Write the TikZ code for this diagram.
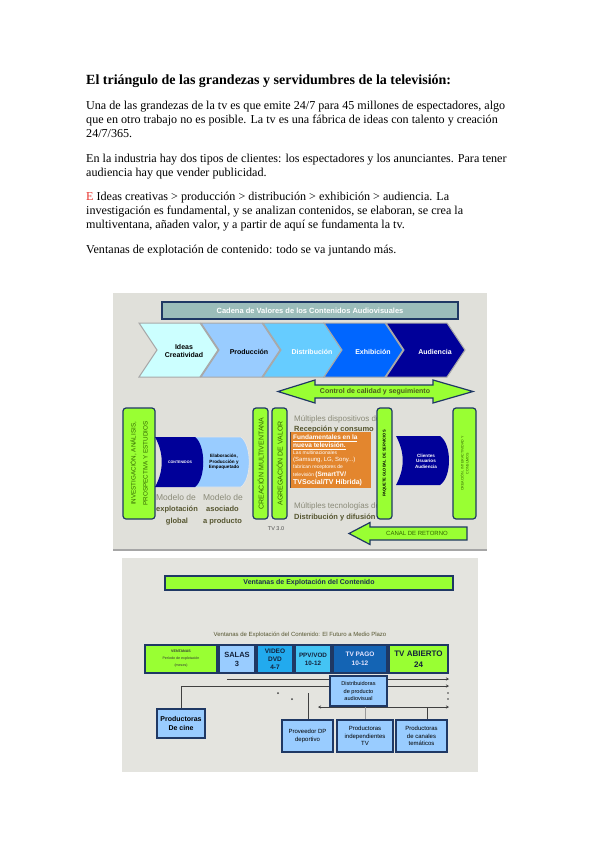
\documentclass[tikz,border=0pt]{standalone}
\usepackage{fontspec}
\setmainfont{Liberation Serif}
\setsansfont{Liberation Sans}
\usetikzlibrary{arrows.meta}
\pgfdeclarelayer{back}
\pgfdeclarelayer{bg}
\pgfsetlayers{back,bg,main}
\definecolor{navy}{HTML}{1F3864}
\definecolor{lime}{HTML}{99FF33}
\definecolor{lblue}{HTML}{99CCFF}
\definecolor{chA}{HTML}{CCFFFF}
\definecolor{chB}{HTML}{99CCFF}
\definecolor{chC}{HTML}{66CCFF}
\definecolor{chD}{HTML}{0066FF}
\definecolor{chE}{HTML}{000099}
\definecolor{tealbar}{HTML}{9BBDBA}
\definecolor{orangebox}{HTML}{E3862E}
\definecolor{bgone}{HTML}{E0E0DA}
\definecolor{bgtwo}{HTML}{E4E4DF}
\definecolor{vgreen}{HTML}{336600}
\definecolor{olive}{HTML}{4B5A1E}
\definecolor{greytext}{HTML}{8A8A78}
\definecolor{darkolive}{HTML}{55552F}
\definecolor{dvd}{HTML}{22AAEE}
\definecolor{ppv}{HTML}{44C4F4}
\definecolor{tvpago}{HTML}{1464B4}
\definecolor{chline}{HTML}{A8A8A8}
\definecolor{redE}{HTML}{E8302A}
\begin{document}
\begin{tikzpicture}[x=1pt,y=-1pt,
  body/.style={anchor=base west,inner sep=0,font=\fontsize{12.1}{14}\selectfont},
  lbl/.style={inner sep=0,align=center},
  vbox/.style={draw=navy,fill=lime,line width=1.2pt,rounded corners=3pt,rotate=90,inner sep=0,align=center,minimum width=111},
  wbox/.style={draw=navy,line width=1.3pt,inner sep=0,align=center,font=\sffamily\bfseries},
  lbox/.style={wbox,fill=lblue},
  conn/.style={draw=black!75,line width=0.8pt},
  tip/.style={-{Stealth[length=3pt,width=3pt]}}
]
\useasboundingbox (0,0) rectangle (599,848);
\begin{pgfonlayer}{back}
\fill[white] (0,0) rectangle (599,848);
\fill[bgone] (113,293) rectangle (487,550);
\draw[black!35,line width=1.2pt] (113,550) -- (487,550);
\fill[bgtwo] (122,558) rectangle (478,772);
\end{pgfonlayer}

% ---- page text ----
\node[anchor=base west,inner sep=0,font=\bfseries\fontsize{14}{16}\selectfont] (title) at (86,85) {El triángulo de las grandezas y servidumbres de la televisión:};
\node[body] (l1) at (86,110) {Una de las grandezas de la tv es que emite 24/7 para 45 millones de espectadores, algo};
\node[body] (l2) at (86,124) {que en otro trabajo no es posible. La tv es una fábrica de ideas con talento y creación};
\node[body] (l3) at (86,138) {24/7/365.};
\node[body] (l4) at (86,162) {En la industria hay dos tipos de clientes: los espectadores y los anunciantes. Para tener};
\node[body] (l5) at (86,176) {audiencia hay que vender publicidad.};
\node[body] (l6) at (86,200) {{\color{redE}E} Ideas creativas > producción > distribución > exhibición > audiencia. La};
\node[body] (l7) at (86,214) {investigación es fundamental, y se analizan contenidos, se elaboran, se crea la};
\node[body] (l8) at (86,228) {multiventana, añaden valor, y a partir de aquí se fundamenta la tv.};
\node[body] (l9) at (86,253.5) {Ventanas de explotación de contenido: todo se va juntando más.};

% ---- diagram 1 ----
\node[wbox,fill=tealbar,text=white,minimum width=296,minimum height=17,font=\sffamily\bfseries\fontsize{7.5}{9}\selectfont] (cadena) at (310,310.5) {Cadena de Valores de los Contenidos Audiovisuales};

\foreach \L/\c in {139/chA,201/chB,263/chC,324/chD,386/chE}
  \filldraw[fill=\c,draw=chline,line width=1pt] (\L,323) -- ++(61,0) -- ++(18,27) -- ++(-18,27) -- ++(-61,0) -- ++(18,-27) -- cycle;
\node[lbl,font=\sffamily\bfseries\fontsize{7}{8}\selectfont] (ch1) at (184,351) {Ideas\\Creatividad};
\node[lbl,font=\sffamily\bfseries\fontsize{7}{8}\selectfont] (ch2) at (249,352) {Producción};
\node[lbl,font=\sffamily\bfseries\fontsize{7}{8}\selectfont,text=white] (ch3) at (312,352) {Distribución};
\node[lbl,font=\sffamily\bfseries\fontsize{7}{8}\selectfont,text=white] (ch4) at (373,352) {Exhibición};
\node[lbl,font=\sffamily\bfseries\fontsize{7}{8}\selectfont,text=white] (ch5) at (435,352) {Audiencia};

% control de calidad arrow
\filldraw[fill=lime,draw=navy,line width=1.2pt] (278,391.5) -- (315,380) -- (315,385) -- (433,385) -- (433,380) -- (473,391.5) -- (433,403) -- (433,398) -- (315,398) -- (315,403) -- cycle;
\node[lbl,font=\sffamily\bfseries\fontsize{7}{8}\selectfont,text=olive] (control) at (375,391.5) {Control de calidad y seguimiento};

% vertical boxes
\node[vbox,minimum height=32,text=vgreen,font=\sffamily\fontsize{6.3}{12}\selectfont] (vb1) at (139,463.5) {INVESTIGACIÓN, ANÁLISIS,\\PROSPECTIVA Y ESTUDIOS};
\node[vbox,minimum height=15,text=vgreen,font=\sffamily\fontsize{7}{8}\selectfont] (vb2) at (260.5,463.5) {CREACIÓN MULTIVENTANA};
\node[vbox,minimum height=15,text=vgreen,font=\sffamily\fontsize{7}{8}\selectfont] (vb3) at (279.5,463.5) {AGREGACIÓN DE VALOR};
\node[lbl,font=\sffamily\fontsize{5.5}{6}\selectfont,text=black!70] (tv30) at (276,529) {TV 3.0};

% cylinders
\filldraw[fill=lblue,draw=white!80!gray,line width=0.8pt] (190,437) -- (241,437) .. controls (252,445) and (252,479) .. (241,487) -- (190,487) -- cycle;
\fill[chE] (155,437) -- (195,437) .. controls (206,445) and (206,479) .. (195,487) -- (155,487) .. controls (164,471) and (164,453) .. (155,437) -- cycle;
\node[lbl,font=\sffamily\bfseries\fontsize{3.6}{4}\selectfont,text=white] (contenidos) at (180,462) {CONTENIDOS};
\node[lbl,font=\sffamily\bfseries\fontsize{4.6}{5.5}\selectfont] (elab) at (224,462) {Elaboración,\\Producción y\\Empaquetado};

\node[lbl,font=\sffamily\fontsize{8.5}{12}\selectfont,text=greytext] (m1a) at (176,497.5) {Modelo de};
\node[lbl,font=\sffamily\bfseries\fontsize{7.5}{12}\selectfont,text=darkolive] (m1b) at (177,516) {explotación\\global};
\node[lbl,font=\sffamily\fontsize{8.5}{12}\selectfont,text=greytext] (m2a) at (223,497.5) {Modelo de};
\node[lbl,font=\sffamily\bfseries\fontsize{7.5}{12}\selectfont,text=darkolive] (m2b) at (222.5,516) {asociado\\a producto};

% middle texts
\node[anchor=west,inner sep=0,font=\sffamily\fontsize{8}{9}\selectfont,text=greytext] (mult1) at (294,419) {Múltiples dispositivos de};
\node[anchor=west,inner sep=0,font=\sffamily\bfseries\fontsize{7.5}{9}\selectfont,text=darkolive] (recep) at (294,430) {Recepción y consumo};
\node[anchor=north west,fill=orangebox,minimum width=81,minimum height=56,inner sep=0] (orange) at (290,432) {};
\draw[black!70,line width=0.8pt] (orange.north west) -- (orange.south west);
\node[anchor=west,inner sep=0,text=white,font=\sffamily\bfseries\fontsize{6.5}{7}\selectfont] (o1) at (293,438.5) {\underline{Fundamentales en la}};
\node[anchor=west,inner sep=0,text=white,font=\sffamily\bfseries\fontsize{6.5}{7}\selectfont] (o2) at (293,446) {\underline{nueva televisión.}};
\node[anchor=west,inner sep=0,text=white,font=\sffamily\fontsize{5}{6}\selectfont] (o3) at (293,453) {Las multinacionales};
\node[anchor=west,inner sep=0,text=white,font=\sffamily\fontsize{6}{7}\selectfont] (o4) at (293,460) {(Samsung, LG, Sony...)};
\node[anchor=west,inner sep=0,text=white,font=\sffamily\fontsize{5}{6}\selectfont] (o5) at (293,467.5) {fabrican receptores de};
\node[anchor=west,inner sep=0,text=white,font=\sffamily\fontsize{5}{6}\selectfont] (o6) at (293,475) {televisión \textbf{\fontsize{6.5}{7}\selectfont(SmartTV/}};
\node[anchor=west,inner sep=0,text=white,font=\sffamily\bfseries\fontsize{7}{8}\selectfont] (o7) at (293,483) {TVSocial/TV Híbrida)};
\node[anchor=west,inner sep=0,font=\sffamily\fontsize{8}{9}\selectfont,text=greytext] (mult2) at (294,506) {Múltiples tecnologías de};
\node[anchor=west,inner sep=0,font=\sffamily\bfseries\fontsize{7.5}{9}\selectfont,text=darkolive] (distr) at (294,517.5) {Distribución y difusión};

\node[vbox,minimum height=15,text=black,font=\sffamily\bfseries\fontsize{4}{5}\selectfont] (vb4) at (384.5,463.5) {PAQUETE GLOBAL DE SERVICIOS};

\fill[chE] (396,436) -- (440,436) .. controls (452,444) and (452,477) .. (440,485) -- (396,485) .. controls (405,468) and (405,453) .. (396,436) -- cycle;
\node[lbl,font=\sffamily\bfseries\fontsize{4.6}{5.6}\selectfont,text=white] (clientes) at (426,461) {Clientes\\Usuarios\\Audiencia};

\node[vbox,minimum height=23,text=vgreen,font=\sffamily\fontsize{3.6}{5}\selectfont] (vb5) at (464.5,463.5) {CREACIÓN, INTERACTIVIDAD Y\\CONSUMOS};

% canal de retorno
\filldraw[fill=lime,draw=navy,line width=1.2pt] (349,533.5) -- (370,522.5) -- (370,527) -- (467,527) -- (467,540) -- (370,540) -- (370,544.5) -- cycle;
\node[lbl,font=\sffamily\fontsize{6}{7}\selectfont,text=vgreen] (canal) at (417,533.5) {CANAL DE RETORNO};

% ---- diagram 2 ----
\node[wbox,fill=lime,minimum width=288,minimum height=14,text=navy!80!black,font=\sffamily\bfseries\fontsize{7}{8}\selectfont] (vent) at (309,583) {Ventanas de Explotación del Contenido};
\node[lbl,font=\sffamily\fontsize{6}{7}\selectfont,text=darkolive] (futuro) at (300,635) {Ventanas de Explotación del Contenido: El Futuro a Medio Plazo};

\node[wbox,fill=lime,minimum width=72,minimum height=28,text=black!80,font=\sffamily\fontsize{3.6}{7}\selectfont] (b1) at (181,659) {\textbf{VENTANAS}\\Período de explotación\\(meses)};
\node[wbox,fill=lblue,minimum width=36,minimum height=28,text=navy!60!black,font=\sffamily\bfseries\fontsize{7.5}{9}\selectfont] (b2) at (237,659) {SALAS\\3};
\node[wbox,fill=dvd,minimum width=36,minimum height=28,text=navy!60!black,font=\sffamily\bfseries\fontsize{6.5}{7.8}\selectfont] (b3) at (275,659) {VIDEO\\DVD\\4-7};
\node[wbox,fill=ppv,minimum width=36,minimum height=28,text=navy!60!black,font=\sffamily\bfseries\fontsize{6.3}{8.5}\selectfont] (b4) at (313,659) {PPV/VOD\\10-12};
\node[wbox,fill=tvpago,minimum width=54,minimum height=28,text=white!90!blue,font=\sffamily\bfseries\fontsize{6.5}{8.5}\selectfont] (b5) at (360,659) {TV PAGO\\10-12};
\node[wbox,fill=lime,minimum width=59,minimum height=28,text=navy!60!black,font=\sffamily\bfseries\fontsize{8}{10.5}\selectfont] (b6) at (418.5,659) {TV ABIERTO\\24};

\node[lbox,minimum width=57,minimum height=30,font=\sffamily\fontsize{5.6}{7.6}\selectfont] (dist) at (358.5,691) {Distribuidoras\\de producto\\audiovisual};
\node[lbox,minimum width=48,minimum height=29,font=\sffamily\bfseries\fontsize{7}{9}\selectfont] (cine) at (181,723.5) {Productoras\\De cine};
\node[lbox,minimum width=51,minimum height=32,font=\sffamily\fontsize{6}{8}\selectfont] (prov) at (307.5,736) {Proveedor DP\\deportivo};
\node[lbox,minimum width=56,minimum height=32,font=\sffamily\fontsize{6}{7.5}\selectfont] (indep) at (365,736) {Productoras\\independientes\\TV};
\node[lbox,minimum width=51,minimum height=32,font=\sffamily\fontsize{6}{7.5}\selectfont] (temat) at (421.5,736) {Productoras\\de canales\\temáticos};

\coordinate (s1) at (227,679);
\coordinate (e1) at (449,679);
\coordinate (e2) at (449,686);
\coordinate (s3) at (318,707);
\coordinate (e3) at (449,707);
\coordinate (pv) at (308,693);
\coordinate (tt) at (427,707);
\begin{pgfonlayer}{bg}
\draw[conn,tip] (s1) -- (e1);
\draw[conn,tip] (cine.north) |- (e2);
\draw[conn,{Stealth[length=3pt,width=3pt]}-{Stealth[length=3pt,width=3pt]}] (s3) -- (e3);
\draw[conn] (pv) -- (pv |- prov.north);
\draw[draw=black!40,line width=1pt] (indep.north) -- (indep.north |- dist.south);
\draw[conn] (tt) -- (tt |- temat.north);
\end{pgfonlayer}
\fill[black!75] (278,693) circle (1pt) (292,699) circle (1pt) (448,693) circle (0.9pt) (448,699) circle (0.9pt);
\end{tikzpicture}
\end{document}
